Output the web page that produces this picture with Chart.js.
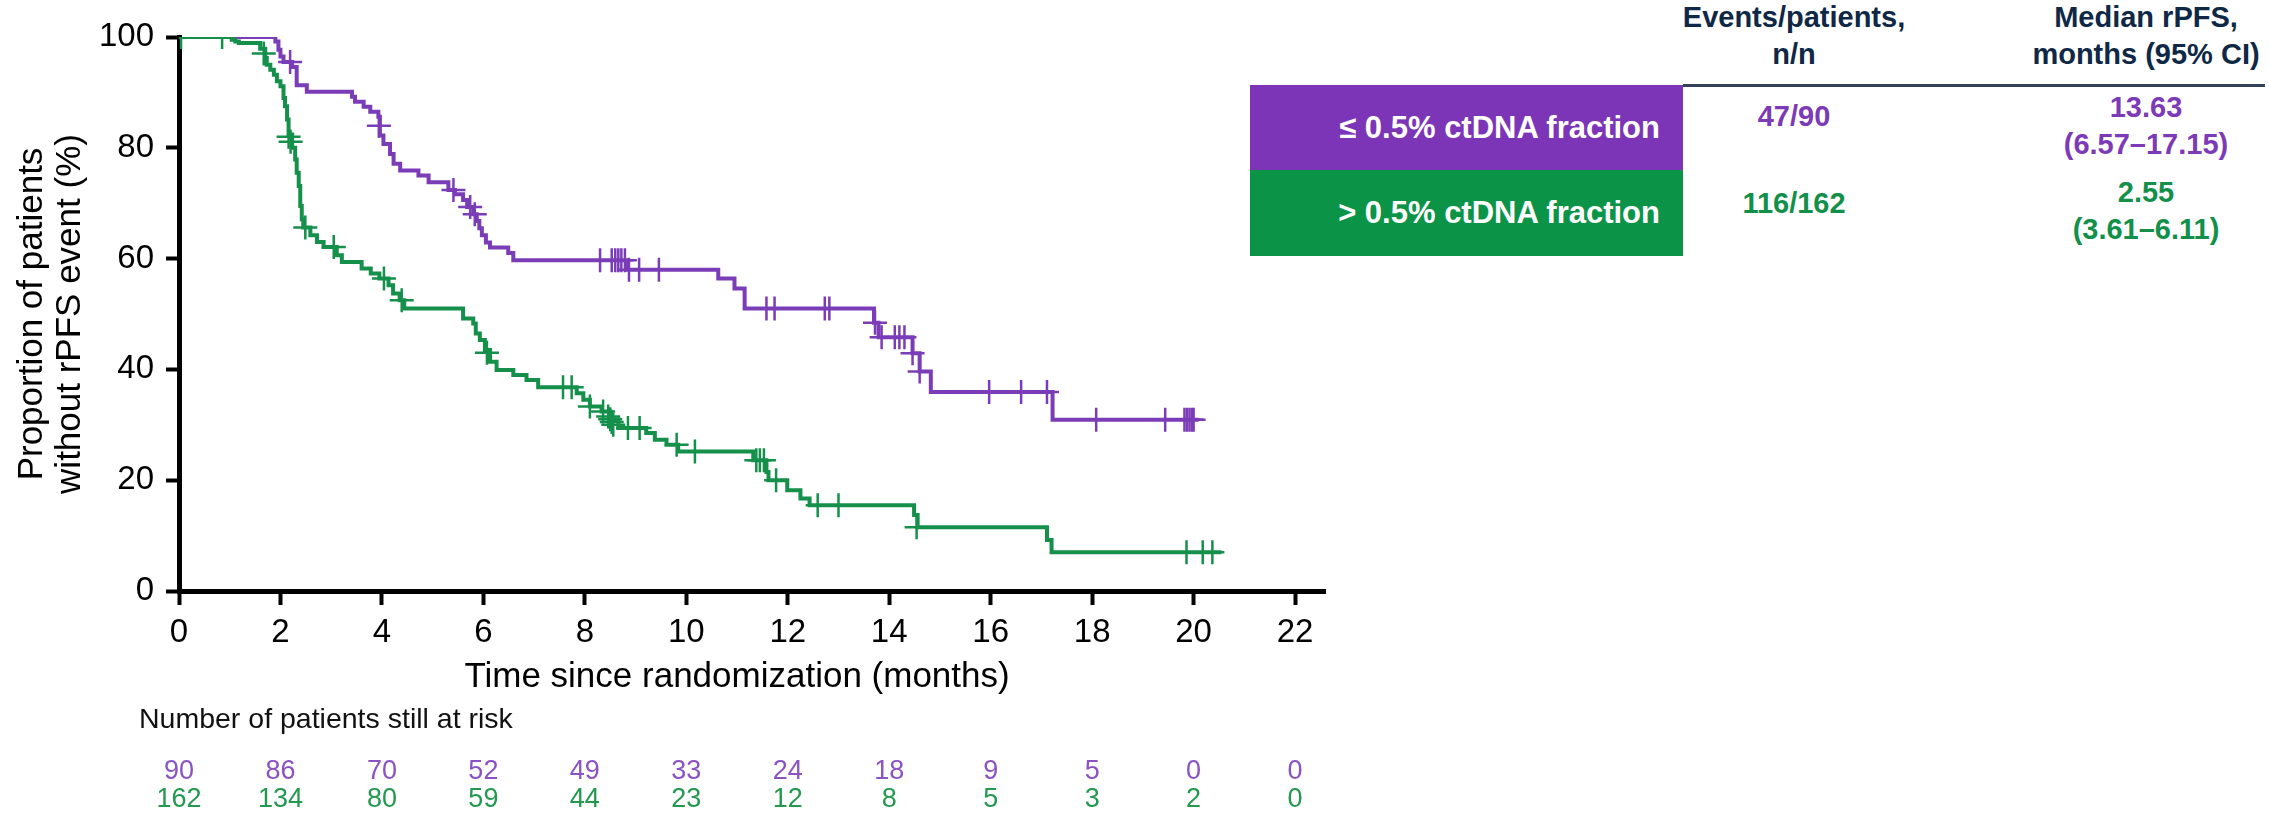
<!DOCTYPE html>
<html>
<head>
<meta charset="utf-8">
<script src="https://cdn.jsdelivr.net/npm/chart.js@4.4.1/dist/chart.umd.min.js"></script>
<style>
    html, body { margin: 0; padding: 0; background: #fff; }
    body { width: 2269px; height: 819px; position: relative; overflow: hidden; font-family: "Liberation Sans", Arial, sans-serif; }
    #chartBox { position: absolute; left: 0; top: 0; width: 1340px; height: 819px; }
    .cell { position: absolute; font-weight: bold; font-size: 29px; line-height: 37px; text-align: center; transform: translate(-50%, -50%); white-space: nowrap; }
    .head { color: #0e2845; }
    .purple { color: #7d3ab6; }
    .green { color: #12904a; }
    .box { position: absolute; left: 1250px; width: 433px; box-sizing: border-box; padding-right: 23px; color: #fff; font-weight: bold; font-size: 31px; display: flex; align-items: center; justify-content: flex-end; }
    .rule { position: absolute; left: 1683px; top: 84px; width: 582px; height: 3px; background: #35435a; }
</style>
</head>
<body>
<div id="chartBox"><canvas id="kmChart" width="1340" height="819"></canvas></div>

<div class="cell head" style="left:1794px; top:36px;">Events/patients,<br>n/n</div>
<div class="cell head" style="left:2146px; top:36px;">Median rPFS,<br>months (95% CI)</div>
<div class="rule"></div>
<div class="box" style="top:85px; height:85px; background:#7b35b6;">≤ 0.5% ctDNA fraction</div>
<div class="box" style="top:170px; height:86px; background:#0b9447;">&gt; 0.5% ctDNA fraction</div>
<div class="cell purple" style="left:1794px; top:116px;">47/90</div>
<div class="cell purple" style="left:2146px; top:126px;">13.63<br>(6.57–17.15)</div>
<div class="cell green" style="left:1794px; top:203px;">116/162</div>
<div class="cell green" style="left:2146px; top:211px;">2.55<br>(3.61–6.11)</div>

<script>
// Curvas de Kaplan-Meier (tiempo en meses, % sin evento)
const purpleTimes = [0, 1.90, 1.96, 2.00, 2.06, 2.23, 2.32, 2.52, 3.41, 3.47, 3.64, 3.77, 3.93, 3.96, 4.03, 4.16, 4.23, 4.36, 4.72, 4.92, 5.31, 5.44, 5.60, 5.68, 5.80, 5.87, 5.92, 5.97, 6.05, 6.13, 6.49, 6.59, 8.85, 10.63, 10.95, 11.15, 13.70, 13.79, 14.46, 14.60, 14.82, 17.22, 20.10];
const purpleSurv = [100, 99.2, 97.7, 96.5, 95.5, 94.6, 91.3, 90.1, 89.2, 88.3, 87.4, 86.5, 85.6, 82.2, 80.7, 78.9, 77.1, 75.9, 75.0, 73.8, 72.4, 71.6, 70.6, 69.3, 68.0, 66.8, 65.5, 64.2, 62.9, 62.0, 61.0, 59.7, 58.0, 56.4, 54.6, 51.0, 48.4, 45.8, 42.9, 39.6, 35.9, 30.9, 30.9];

const greenTimes = [0, 1.04, 1.11, 1.18, 1.60, 1.70, 1.73, 1.80, 1.87, 1.93, 2.00, 2.06, 2.09, 2.13, 2.16, 2.23, 2.29, 2.32, 2.36, 2.39, 2.42, 2.45, 2.59, 2.72, 2.85, 3.11, 3.21, 3.60, 3.78, 3.95, 4.13, 4.22, 4.35, 4.44, 5.60, 5.80, 5.85, 5.93, 6.03, 6.13, 6.26, 6.59, 6.85, 7.08, 7.84, 7.97, 8.10, 8.33, 8.50, 8.66, 9.21, 9.38, 9.61, 9.84, 11.32, 11.58, 11.62, 11.99, 12.25, 12.43, 14.49, 14.56, 17.11, 17.20, 20.55];
const greenSurv = [100, 99.5, 99.2, 98.9, 97.9, 96.2, 95.0, 94.1, 93.2, 92.0, 91.1, 89.0, 87.5, 85.1, 82.4, 80.0, 77.9, 75.5, 73.1, 69.5, 67.1, 65.6, 64.2, 63.0, 62.1, 60.6, 59.4, 58.2, 57.3, 56.4, 55.2, 53.7, 52.5, 51.0, 49.2, 48.3, 46.5, 45.3, 43.5, 41.4, 39.9, 39.0, 38.1, 36.8, 35.7, 34.5, 33.3, 32.4, 31.0, 29.4, 28.5, 27.3, 26.4, 25.2, 23.6, 21.5, 20.0, 18.2, 16.7, 15.5, 13.7, 11.5, 9.2, 7.0, 7.0];

// Pacientes censurados (marcas +)
const purpleCensorT = [2.19, 3.94, 5.41, 5.74, 5.83, 8.30, 8.53, 8.60, 8.66, 8.72, 8.79, 8.87, 9.07, 9.46, 11.58, 11.74, 12.73, 12.82, 13.72, 13.85, 14.11, 14.20, 14.30, 14.46, 14.60, 15.97, 16.60, 17.11, 18.08, 19.44, 19.82, 19.87, 19.92, 19.97, 20.00];
const purpleCensorS = [95.5, 84.0, 72.4, 69.3, 68.0, 59.7, 59.7, 59.7, 59.7, 59.7, 59.7, 58.0, 58.0, 58.0, 51.0, 51.0, 51.0, 51.0, 48.4, 45.8, 45.8, 45.8, 45.8, 42.9, 39.6, 35.9, 35.9, 35.9, 30.9, 30.9, 30.9, 30.9, 30.9, 30.9, 30.9];

const greenCensorT = [0.04, 0.85, 1.67, 2.16, 2.20, 2.49, 3.05, 4.04, 4.39, 6.07, 7.57, 7.74, 8.10, 8.36, 8.46, 8.50, 8.53, 8.56, 8.85, 9.08, 9.81, 10.17, 11.38, 11.45, 11.53, 11.77, 12.59, 13.00, 14.54, 19.86, 20.18, 20.37];
const greenCensorS = [100, 100, 97.0, 82.0, 81.1, 65.6, 62.1, 56.4, 52.5, 43.0, 36.8, 36.8, 33.3, 32.4, 31.5, 31.0, 30.5, 30.0, 29.4, 29.4, 26.4, 25.2, 23.6, 23.6, 23.6, 20.0, 15.5, 15.5, 11.5, 7.0, 7.0, 7.0];

// Número de pacientes en riesgo
const riskTimes = [0, 2, 4, 6, 8, 10, 12, 14, 16, 18, 20, 22];
const riskPurple = [90, 86, 70, 52, 49, 33, 24, 18, 9, 5, 0, 0];
const riskGreen = [162, 134, 80, 59, 44, 23, 12, 8, 5, 3, 2, 0];

const colors = {
    purple: '#7b3cb7',
    green: '#14904b',
    riskPurple: '#8a52c2',
    riskGreen: '#23984f',
    axis: '#000000'
};

const toPoints = (xs, ys) => xs.map((t, i) => ({ x: t, y: ys[i] }));

// Tabla de pacientes en riesgo y título del eje x
const riskTablePlugin = {
    id: 'riskTable',
    afterDraw(chart) {
        const ctx = chart.ctx;
        const xScale = chart.scales.x;
        ctx.save();
        ctx.fillStyle = '#000';
        ctx.font = '35px "Liberation Sans", Arial, sans-serif';
        ctx.textAlign = 'center';
        ctx.textBaseline = 'alphabetic';
        ctx.fillText('Time since randomization (months)', xScale.getPixelForValue(11), 687);

        ctx.font = '28.5px "Liberation Sans", Arial, sans-serif';
        ctx.textAlign = 'left';
        ctx.fillStyle = '#111';
        ctx.fillText('Number of patients still at risk', 139, 728);

        ctx.font = '27px "Liberation Sans", Arial, sans-serif';
        ctx.textAlign = 'center';
        ctx.textBaseline = 'middle';
        riskTimes.forEach((t, i) => {
            const px = xScale.getPixelForValue(t);
            ctx.fillStyle = colors.riskPurple;
            ctx.fillText(String(riskPurple[i]), px, 772);
            ctx.fillStyle = colors.riskGreen;
            ctx.fillText(String(riskGreen[i]), px, 800);
        });
        ctx.restore();
    }
};

const kmCtx = document.getElementById('kmChart');
new Chart(kmCtx, {
    type: 'scatter',
    data: {
        datasets: [
            {
                label: 'censor > 0.5%',
                data: toPoints(greenCensorT, greenCensorS),
                pointStyle: 'cross',
                pointRadius: 12,
                borderWidth: 2.5,
                borderColor: colors.green,
                order: 0
            },
            {
                label: 'censor ≤ 0.5%',
                data: toPoints(purpleCensorT, purpleCensorS),
                pointStyle: 'cross',
                pointRadius: 12,
                borderWidth: 2.5,
                borderColor: colors.purple,
                order: 0
            },
            {
                label: '> 0.5% ctDNA fraction',
                data: toPoints(greenTimes, greenSurv),
                showLine: true,
                stepped: 'before',
                borderColor: colors.green,
                borderWidth: 4,
                pointRadius: 0,
                fill: false,
                order: 1
            },
            {
                label: '≤ 0.5% ctDNA fraction',
                data: toPoints(purpleTimes, purpleSurv),
                showLine: true,
                stepped: 'before',
                borderColor: colors.purple,
                borderWidth: 4,
                pointRadius: 0,
                fill: false,
                order: 2
            }
        ]
    },
    options: {
        responsive: false,
        animation: false,
        layout: {
            padding: { left: 0, top: 37, right: 12, bottom: 0 }
        },
        plugins: {
            legend: { display: false },
            tooltip: { enabled: false }
        },
        scales: {
            x: {
                type: 'linear',
                min: 0,
                max: 22.6,
                afterFit: (scale) => { scale.height = 228; },
                border: { display: true, color: colors.axis, width: 5 },
                grid: {
                    drawOnChartArea: false,
                    drawTicks: true,
                    tickLength: 14,
                    tickWidth: 4,
                    tickColor: colors.axis
                },
                ticks: {
                    stepSize: 2,
                    includeBounds: false,
                    color: '#000',
                    padding: 8,
                    font: { family: '"Liberation Sans", Arial, sans-serif', size: 33 }
                }
            },
            y: {
                type: 'linear',
                min: 0,
                max: 100,
                afterFit: (scale) => { scale.width = 179; },
                border: { display: true, color: colors.axis, width: 5 },
                grid: {
                    drawOnChartArea: false,
                    drawTicks: true,
                    tickLength: 13,
                    tickWidth: 4,
                    tickColor: colors.axis
                },
                ticks: {
                    stepSize: 20,
                    color: '#000',
                    padding: 12,
                    font: { family: '"Liberation Sans", Arial, sans-serif', size: 33 }
                },
                title: {
                    display: true,
                    text: ['Proportion of patients', 'without rPFS event (%)'],
                    color: '#000',
                    padding: { top: 13, bottom: 0 },
                    font: { family: '"Liberation Sans", Arial, sans-serif', size: 35, lineHeight: 1.09 }
                }
            }
        }
    },
    plugins: [riskTablePlugin]
});
</script>
</body>
</html>
